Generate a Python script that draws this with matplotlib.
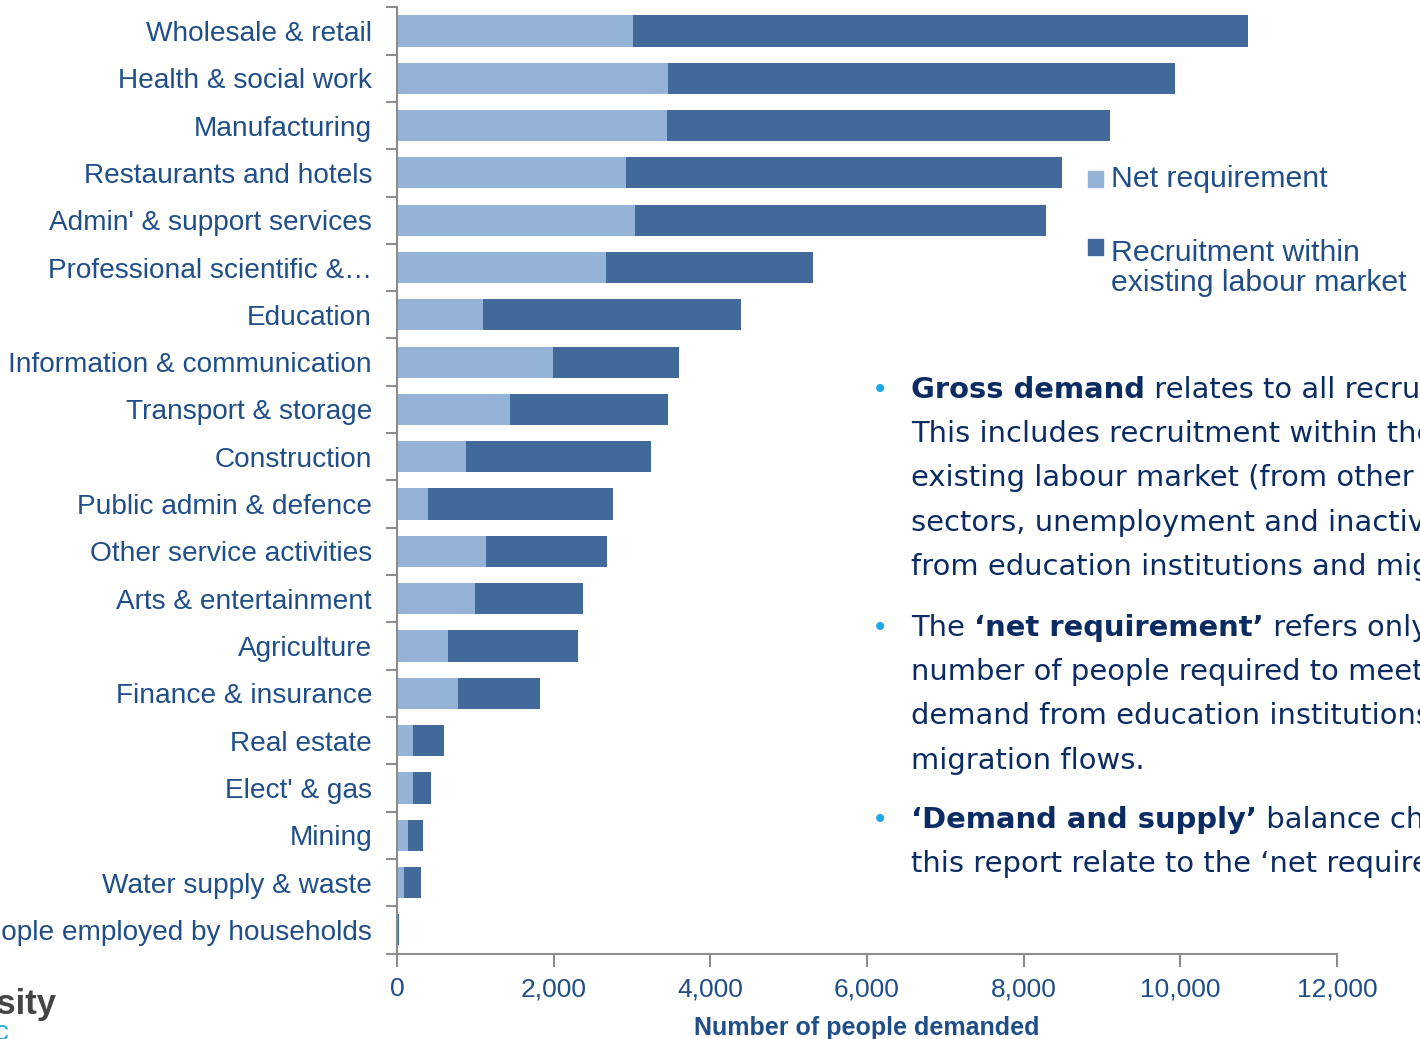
import matplotlib
matplotlib.use("Agg")
import matplotlib.pyplot as plt
from matplotlib.patches import Rectangle
import numpy as np

categories = ["Wholesale & retail", "Health & social work", "Manufacturing",
              "Restaurants and hotels", "Admin' & support services",
              "Professional scientific &…", "Education",
              "Information & communication", "Transport & storage",
              "Construction", "Public admin & defence", "Other service activities",
              "Arts & entertainment", "Agriculture", "Finance & insurance",
              "Real estate", "Elect' & gas", "Mining", "Water supply & waste",
              "People employed by households"]
net_requirement = [3010, 3460, 3450, 2920, 3040, 2670, 1100, 1990, 1440, 880,
                   400, 1140, 1000, 650, 780, 200, 200, 140, 90, 10]
total_demand = [10860, 9930, 9100, 8490, 8280, 5310, 4390, 3600, 3460, 3240,
                2760, 2680, 2380, 2310, 1830, 600, 430, 330, 310, 25]
recruitment = [t - n for t, n in zip(total_demand, net_requirement)]
xticks = [0, 2000, 4000, 6000, 8000, 10000, 12000]
xtick_labels = ["0", "2,000", "4,000", "6,000", "8,000", "10,000", "12,000"]
legend_labels = ["Net requirement", "Recruitment within\nexisting labour market"]

C_NET = "#95B3D7"
C_REC = "#41699A"
C_TXT = "#1F4E89"
C_NAVY = "#0B2B63"
C_AX = "#8C8C8C"

W, H = 1420, 1039
fig = plt.figure(figsize=(14.2, 10.39), dpi=100)
ax = fig.add_axes([397/W, 1 - 953.5/H, 940/W, (953.5 - 7.3)/H])

y = np.arange(len(categories))
ax.barh(y, net_requirement, height=0.66, color=C_NET, label=legend_labels[0])
ax.barh(y, recruitment, left=net_requirement, height=0.66, color=C_REC,
        label=legend_labels[1])
ax.set_ylim(len(categories) - 0.5, -0.5)
ax.set_xlim(0, 12000)

for s in ["top", "right"]:
    ax.spines[s].set_visible(False)
for s in ["left", "bottom"]:
    ax.spines[s].set_color(C_AX)
    ax.spines[s].set_linewidth(1.5)

ax.set_yticks(np.arange(len(categories) + 1) - 0.5, minor=False)
ax.set_yticklabels([])
ax.tick_params(axis="y", length=8, width=1.5, color=C_AX, direction="out")
ax.set_yticks(y, minor=True)
ax.set_yticklabels(categories, minor=True, fontsize=20.2, color=C_TXT,
                   family="Liberation Sans")
ax.tick_params(axis="y", which="minor", length=0, pad=18)

ax.set_xticks(xticks)
ax.set_xticklabels(xtick_labels, fontsize=19, color=C_TXT,
                   family=["Liberation Sans Narrow", "Liberation Sans"])
ax.tick_params(axis="x", length=9, width=1.5, color=C_AX, pad=8)
ax.set_xlabel("Number of people demanded", fontsize=18, color=C_TXT,
              fontweight="bold", family=["Liberation Sans Narrow", "Liberation Sans"],
              labelpad=11)


def fy(py):
    return 1 - py / H


# Legend drawn manually (square aligned with first line of each label)
fig.patches.append(Rectangle((1088 / W, fy(179 + 8)), 15 / W, 16 / H,
                             transform=fig.transFigure, color=C_NET))
fig.text(1111 / W, fy(179), legend_labels[0], fontsize=21.8, color=C_TXT,
         family="Liberation Sans", va="center")
fig.patches.append(Rectangle((1088 / W, fy(247 + 8)), 15 / W, 16 / H,
                             transform=fig.transFigure, color=C_REC))
fig.text(1111 / W, fy(282 + 9), legend_labels[1], fontsize=21.8, color=C_TXT,
         family="Liberation Sans", va="baseline", linespacing=1.1)

# Bullet text block
fs = 20.9
line_h = 44.2
x0 = 911 / W
xb = 880 / W


def place(parts, py):
    renderer = fig.canvas.get_renderer()
    xpos = x0
    for txt, bold in parts:
        t = fig.text(xpos, fy(py), txt, fontsize=fs, color=C_NAVY,
                     family="DejaVu Sans",
                     fontweight="bold" if bold else "normal", va="baseline")
        bb = t.get_window_extent(renderer)
        xpos += bb.width / W


def bullet(py):
    fig.text(xb, fy(py), "•", fontsize=20, color="#1FA8E8", va="baseline",
             ha="center", family="DejaVu Sans")


base1 = 398
lines1 = [
    [("Gross demand", True), (" relates to all recruitment.", False)],
    [("This includes recruitment within the", False)],
    [("existing labour market (from other", False)],
    [("sectors, unemployment and inactivity) and", False)],
    [("from education institutions and migration.", False)],
]
bullet(base1)
for i, ln in enumerate(lines1):
    place(ln, base1 + i * line_h)

base2 = 636
lines2 = [
    [("The ", False), ("‘net requirement’", True), (" refers only to the", False)],
    [("number of people required to meet", False)],
    [("demand from education institutions and", False)],
    [("migration flows.", False)],
]
bullet(base2)
for i, ln in enumerate(lines2):
    place(ln, base2 + i * line_h)

base3 = 828
lines3 = [
    [("‘Demand and supply’", True), (" balance charts in", False)],
    [("this report relate to the ‘net requirement’.", False)],
]
bullet(base3)
for i, ln in enumerate(lines3):
    place(ln, base3 + i * line_h)

# cropped logo fragment
fig.text(57 / W, fy(1014), "University", fontsize=25, fontweight="bold",
         color="#444444", ha="right", va="baseline", family="Liberation Sans")
fig.text(9 / W, fy(1040), "c", fontsize=20, color="#29ABE2",
         ha="right", va="baseline", family="Liberation Sans")

fig.savefig("out.png", dpi=100)
